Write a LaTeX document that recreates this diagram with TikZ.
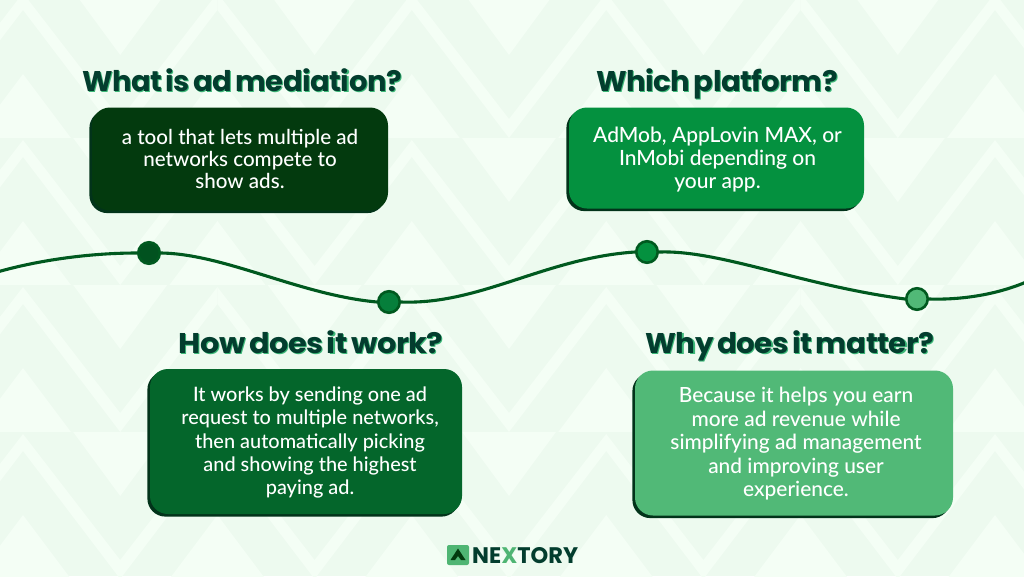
\documentclass[tikz,border=0pt]{standalone}
\usepackage{graphicx}
\usepackage{fontspec}
\usetikzlibrary{shadows}
\setmainfont{Lato}[UprightFont=* Medium]
\newfontfamily\titlefont{Poppins}[LetterSpace=-1.6,WordSpace=0.6]
\newfontfamily\logofont{Poppins}
\definecolor{bgbase}{HTML}{EDFAEF}
\definecolor{bglight}{HTML}{F4FEF5}
\definecolor{wave}{HTML}{00591F}
\definecolor{titlecol}{HTML}{033D2E}
\definecolor{titleshadow}{HTML}{3CB878}
\definecolor{cone}{HTML}{033A0E}
\definecolor{ctwo}{HTML}{04913F}
\definecolor{cthree}{HTML}{04662B}
\definecolor{cfour}{HTML}{51B977}
\definecolor{boxshadow}{HTML}{02331A}
\definecolor{dotone}{HTML}{01521F}
\definecolor{dottwo}{HTML}{067F3B}
\definecolor{logogreen}{HTML}{4FB573}
\newcommand{\boxtext}[3]{\raisebox{#2}[\height][\depth]{\hspace*{#1}\begin{tabular}{@{}c@{}}#3\end{tabular}}}
\newcommand{\shadowtitle}[2]{\scalebox{#1}[1]{\rlap{\kern1pt\raisebox{-1pt}{\textcolor{titleshadow}{#2}}}#2}}
\tikzset{
  x=1pt,y=-1pt,
  infobox/.style={rounded corners=18pt,inner sep=0pt,text=white,
    font=\fontsize{20.6}{23.4}\selectfont,
    drop shadow={shadow xshift=-2.6pt,shadow yshift=-2.6pt,fill=boxshadow,opacity=1}},
  titletext/.style={anchor=base,inner sep=0pt,text=titlecol,
    font=\titlefont\bfseries\fontsize{28.5}{30}\selectfont},
  wavedot/.style={circle,draw=wave,line width=2.6pt,minimum size=21.5pt,inner sep=0pt},
  waveline/.style={draw=wave,line width=3.1pt},
}
\begin{document}
\begin{tikzpicture}
\useasboundingbox (0,0) rectangle (1024,576);
\begin{scope}
\clip (0,0) rectangle (1024,576);
\fill[bgbase] (0,0) rectangle (1024,576);
\foreach \ytop in {-9,138,285,432}{
  \foreach \i in {-1,...,5}{
    \pgfmathsetmacro{\ax}{23+194.4*\i}
    \pgfmathsetmacro{\vx}{\ax+97.2}
    \pgfmathsetmacro{\bx}{\ax+194.4}
    % zigzag band
    \fill[bglight] (\ax,\ytop+2) -- (\vx,\ytop+128) -- (\bx,\ytop+2) -- (\bx,\ytop+19) -- (\vx,\ytop+147) -- (\ax,\ytop+19) -- cycle;
    % inner triangle under the peak
    \fill[bglight] (\ax,\ytop+83) -- (\ax+48,\ytop+147) -- (\ax-48,\ytop+147) -- cycle;
    % inverted triangle above the valley
    \fill[bglight] (\vx-47,\ytop) -- (\vx+47,\ytop) -- (\vx,\ytop+64) -- cycle;
  }
}
\end{scope}

% boxes
\node[infobox,fill=cone,minimum width=296pt,minimum height=103pt,font=\fontsize{20.6}{22}\selectfont] (box1) at (240,159)
  {\boxtext{0pt}{-3pt}{a tool that lets multiple ad\\networks compete to\\show ads.}};
\node[infobox,fill=ctwo,minimum width=295pt,minimum height=101pt,font=\fontsize{21}{23.2}\selectfont] (box2) at (716.5,158)
  {\boxtext{2pt}{-3pt}{AdMob, AppLovin MAX, or\\InMobi depending on\\your app.}};
\node[infobox,fill=cthree,minimum width=312pt,minimum height=145pt,font=\fontsize{19.9}{23.4}\selectfont] (box3) at (306,441.5)
  {\boxtext{8pt}{-2pt}{It works by sending one ad\\request to multiple networks,\\then automatically picking\\and showing the highest\\paying ad.}};
\node[infobox,fill=cfour,minimum width=318pt,minimum height=145pt,font=\fontsize{20.9}{23.4}\selectfont] (box4) at (794,443)
  {\boxtext{4pt}{-2pt}{Because it helps you earn\\more ad revenue while\\simplifying ad management\\and improving user\\experience.}};

% titles
\node[titletext] (title1) at (242,91) {\shadowtitle{1.016}{What is ad mediation?}};
\node[titletext] (title2) at (717,91) {\shadowtitle{1.02}{Which platform?}};
\node[titletext] (title3) at (311,353) {\shadowtitle{1.065}{How does it work?}};
\node[titletext] (title4) at (790,353) {\shadowtitle{1.03}{Why does it matter?}};

% timeline
\node[wavedot,fill=dotone] (dot1) at (149,253) {};
\node[wavedot,fill=dottwo] (dot2) at (389,302) {};
\node[wavedot,fill=ctwo] (dot3) at (647,252) {};
\node[wavedot,fill=cfour] (dot4) at (917,299) {};
\coordinate (wavestart) at (-1,271.5);
\coordinate (waveend) at (1025,282.5);
\draw[waveline] (wavestart) .. controls (40,260) and (90,253) .. (dot1.west);
\draw[waveline] (dot1.east) .. controls (225,254) and (300,295) .. (dot2.west);
\draw[waveline] (dot2.east) .. controls (480,305) and (545,258) .. (dot3.west);
\draw[waveline] (dot3.east) .. controls (720,250) and (800,285) .. (dot4.west);
\draw[waveline] (dot4.east) .. controls (960,300) and (995,295) .. (waveend);

% logo
\node[fill=logogreen,rounded corners=2pt,minimum width=22pt,minimum height=20pt,inner sep=0pt] (logomark) at (458,555) {};
\fill[cone] (458,548.5) -- (465.5,560) -- (461,560) -- (458,556) -- (455,560) -- (450.5,560) -- cycle;
\node[anchor=base west,inner sep=0pt,text=titlecol,font=\logofont\bfseries\fontsize{22.5}{24}\selectfont] (logotext) at (472,563)
  {NE\textcolor{logogreen}{X}TORY};
\end{tikzpicture}
\end{document}
